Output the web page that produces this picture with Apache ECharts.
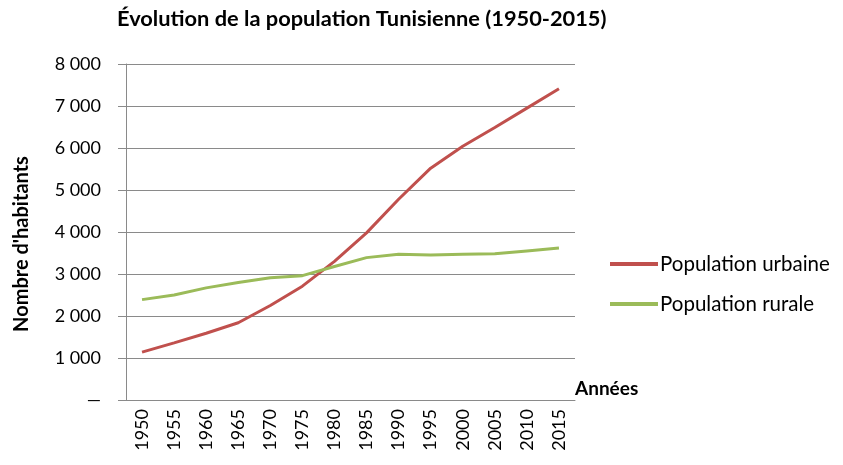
<!DOCTYPE html>
<html>
<head>
<meta charset="utf-8">
<script src="https://cdn.jsdelivr.net/npm/echarts@6/dist/echarts.min.js"></script>
<style>
  html, body { margin: 0; padding: 0; background: #fff; }
  #chart { width: 843px; height: 465px; }
</style>
</head>
<body>
<div id="chart"></div>
<script>
// années (axe des x)
const years = ['1950', '1955', '1960', '1965', '1970', '1975', '1980',
  '1985', '1990', '1995', '2000', '2005', '2010', '2015']

// populations (milliers)
const urbaine = [1140, 1360, 1590, 1840, 2250, 2710, 3300, 3980, 4780, 5520, 6040, 6490, 6950, 7410]
const rurale = [2390, 2500, 2670, 2800, 2910, 2960, 3180, 3390, 3470, 3450, 3470, 3480, 3550, 3620]

const font = 'Lato, "Open Sans", sans-serif'
const gridColor = '#8a8a8a'

const chart = echarts.init(document.getElementById('chart'))
chart.setOption({
  animation: false,
  textStyle: { fontFamily: font },
  title: {
    text: 'Évolution de la population Tunisienne (1950-2015)',
    left: 112,
    top: 3,
    textStyle: { fontFamily: font, fontSize: 21.8, fontWeight: 'bold', color: '#000' }
  },
  legend: {
    orient: 'vertical',
    left: 605,
    top: 247,
    itemWidth: 48,
    itemHeight: 4,
    itemGap: 16,
    icon: 'rect',
    textStyle: { fontFamily: font, fontSize: 20.5, lineHeight: 24, color: '#000', padding: [0, 0, 0, -3] },
    data: ['Population urbaine', 'Population rurale']
  },
  grid: { left: 126, right: 268, top: 64, bottom: 65 },
  xAxis: {
    type: 'category',
    data: years,
    boundaryGap: true,
    name: 'Années',
    nameLocation: 'end',
    nameGap: 0,
    nameTextStyle: { fontFamily: font, fontSize: 19, fontWeight: 'bold', color: '#000', verticalAlign: 'bottom', lineHeight: 22 },
    axisLine: { lineStyle: { color: gridColor } },
    axisTick: { length: 7, lineStyle: { color: gridColor } },
    axisLabel: { rotate: 90, fontSize: 18, color: '#000', margin: 9, fontFamily: font }
  },
  yAxis: {
    type: 'value',
    min: 0,
    max: 8000,
    interval: 1000,
    name: "Nombre d'habitants",
    nameLocation: 'middle',
    nameGap: 94,
    nameTextStyle: { fontFamily: font, fontSize: 20, fontWeight: 'bold', color: '#000', padding: [0, 24, 0, 0] },
    axisLine: { show: true, lineStyle: { color: gridColor } },
    axisTick: { show: true, inside: false, length: 8, lineStyle: { color: gridColor } },
    axisLabel: {
      fontSize: 18,
      color: '#000',
      margin: 25,
      fontFamily: font,
      formatter: v => v === 0 ? '—' : String(v).replace(/\B(?=(\d{3})+(?!\d))/g, ' ')
    },
    splitLine: { lineStyle: { color: gridColor, width: 1 } }
  },
  series: [
    {
      name: 'Population urbaine',
      type: 'line',
      data: urbaine,
      symbol: 'none',
      lineStyle: { color: '#c0504d', width: 3 },
      itemStyle: { color: '#c0504d' }
    },
    {
      name: 'Population rurale',
      type: 'line',
      data: rurale,
      symbol: 'none',
      lineStyle: { color: '#9bbb59', width: 3 },
      itemStyle: { color: '#9bbb59' }
    }
  ]
})
</script>
</body>
</html>
